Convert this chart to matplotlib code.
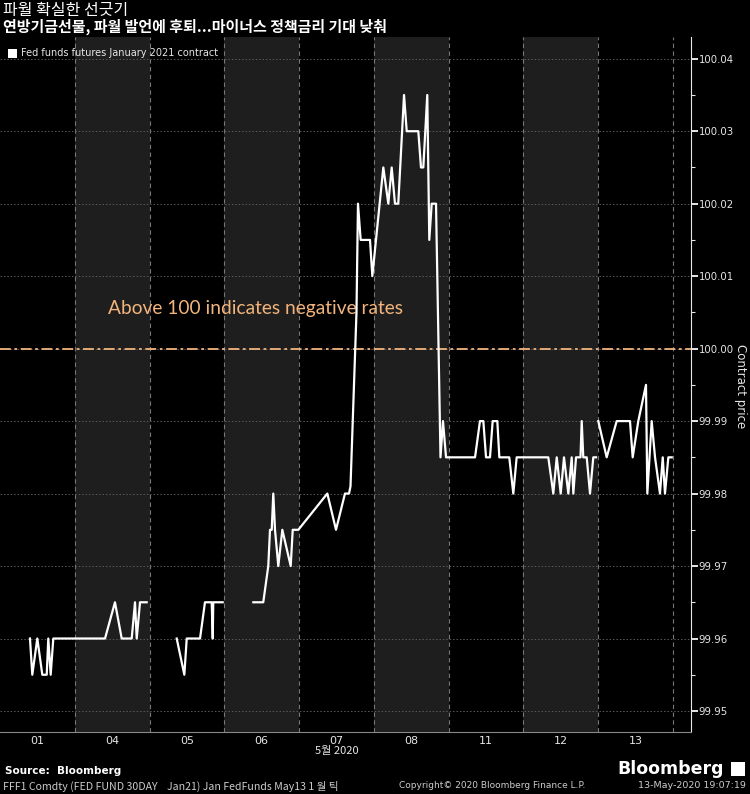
import numpy as np
import matplotlib.pyplot as plt
from matplotlib.patches import Rectangle

# trading days shown on the x axis (one unit per day)
days = ['01', '04', '05', '06', '07', '08', '11', '12', '13']

# intraday time in trading-day units, NaN = gap in the series
t = [0.401, 0.432, 0.499, 0.566, 0.625, 0.646, 0.678, 0.713, 1.405, 1.538,
     1.628, 1.762, 1.806, 1.829, 1.873, 1.962, np.nan,
     2.364, 2.466, 2.498, 2.676, 2.742, 2.832, 2.846, 2.853, 2.979, np.nan,
     3.389, 3.522, 3.589, 3.612, 3.635, 3.656, 3.679, 3.723, 3.777, 3.889,
     3.916, 3.991, 4.379, 4.495, 4.615, 4.669, 4.689, 4.769, 4.789, 4.825,
     4.950, 4.981, 5.128, 5.195, 5.240, 5.284, 5.328, 5.405, 5.441, 5.596,
     5.632, 5.663, 5.716, 5.743, 5.775, 5.833, 5.893, 5.926, 5.967, 6.355,
     6.421, 6.466, 6.502, 6.555, 6.591, 6.653, 6.680, 6.813, 6.867, 6.912,
     7.335, 7.402, 7.448, 7.501, 7.545, 7.603, 7.648, 7.670, 7.706, 7.766,
     7.782, 7.803, 7.849, 7.893, 7.937, 7.973, np.nan,
     8.004, 8.116, 8.250, 8.428, 8.464, 8.539, 8.642, 8.660, 8.718, 8.763,
     8.829, 8.866, 8.896, 8.941, 8.986]

price = [99.96, 99.955, 99.96, 99.955, 99.955, 99.96, 99.955, 99.96, 99.96, 99.965,
         99.96, 99.96, 99.965, 99.96, 99.965, 99.965, np.nan,
         99.96, 99.955, 99.96, 99.96, 99.965, 99.965, 99.96, 99.965, 99.965, np.nan,
         99.965, 99.965, 99.97, 99.975, 99.975, 99.98, 99.975, 99.97, 99.975, 99.97,
         99.975, 99.975, 99.98, 99.975, 99.98, 99.98, 99.981, 100.005, 100.02, 100.015,
         100.015, 100.01, 100.025, 100.02, 100.025, 100.02, 100.02, 100.035, 100.03, 100.03,
         100.025, 100.025, 100.035, 100.015, 100.02, 100.02, 99.985, 99.99, 99.985, 99.985,
         99.99, 99.99, 99.985, 99.985, 99.99, 99.99, 99.985, 99.985, 99.98, 99.985,
         99.985, 99.98, 99.985, 99.98, 99.985, 99.98, 99.985, 99.98, 99.985, 99.985,
         99.99, 99.985, 99.985, 99.98, 99.985, 99.985, np.nan,
         99.99, 99.985, 99.99, 99.99, 99.985, 99.99, 99.995, 99.98, 99.99, 99.985,
         99.98, 99.985, 99.98, 99.985, 99.985]

yticks = [99.95, 99.96, 99.97, 99.98, 99.99, 100.00, 100.01, 100.02, 100.03, 100.04]

kr = ['Noto Sans CJK KR', 'DejaVu Sans']
fg = '#e6e6e6'

fig = plt.figure(figsize=(7.5, 7.94), dpi=100, facecolor='black')
ax = fig.add_axes([0.0, 1 - 732 / 794, 691 / 750, (732 - 37) / 794])
ax.set_facecolor('black')

ax.set_xlim(0, 691 / 74.75)
ax.set_ylim(99.9471, 100.043)

# grey bands on every other day
for i in range(len(days)):
    if i % 2 == 1:
        ax.add_patch(Rectangle((i, 0), 1, 1, transform=ax.get_xaxis_transform(),
                               facecolor='#1e1e1e', edgecolor='none', zorder=0))
for i in range(1, len(days) + 1):
    ax.axvline(i, color='#777777', lw=0.8, ls=(0, (4, 3)), zorder=1)
for y in yticks:
    ax.axhline(y, color='#5a5a5a', lw=0.7, ls=(0, (1.5, 2)), zorder=1)

ax.axhline(100.0, color='#f2b47c', lw=1.3, ls=(0, (6, 2, 1.5, 2)), zorder=2)
ax.text(1.445, 100.0055, 'Above 100 indicates negative rates', color='#f2b47c',
        fontsize=13.8, family='Lato', va='center', ha='left')

ax.plot(t, price, color='white', lw=1.6, zorder=3)

# axes styling
for s in ['left', 'top']:
    ax.spines[s].set_visible(False)
ax.spines['right'].set_color(fg)
ax.spines['bottom'].set_color('#888888')
ax.yaxis.tick_right()
ax.set_yticks(yticks)
ax.set_yticklabels(['%.2f' % v for v in yticks])
ax.set_yticks(np.arange(99.955, 100.04, 0.01), minor=True)
ax.tick_params(axis='y', which='major', colors=fg, length=5, width=1.4, labelsize=7.3, pad=0.5)
ax.tick_params(axis='y', which='minor', colors=fg, length=3, width=0.8)
ax.set_xticks(np.arange(len(days)) + 0.5)
ax.set_xticklabels(days)
ax.tick_params(axis='x', colors=fg, length=0, labelsize=8, pad=3)
ax.set_ylabel('Contract price', rotation=270, color=fg, fontsize=8.5, va='center')
ax.yaxis.set_label_coords(741 / 691, 0.497)

ax.text(4.5, -0.028, '5월 2020', transform=ax.get_xaxis_transform(), ha='center',
        va='center', color=fg, fontsize=8, family=kr)

# legend
fig.patches.append(Rectangle((8 / 750, 1 - 58 / 794), 9 / 750, 9 / 794,
                             transform=fig.transFigure, facecolor='white'))
fig.text(21 / 750, 1 - 53 / 794, 'Fed funds futures January 2021 contract',
         color=fg, fontsize=7, va='center')

# titles
fig.text(3 / 750, 1 - 11 / 794, '파월 확실한 선긋기', color='white', fontsize=11.5,
         family=kr, va='center')
fig.text(3 / 750, 1 - 27 / 794, '연방기금선물, 파월 발언에 후퇴...마이너스 정책금리 기대 낮춰',
         color='white', fontsize=10.8, family=kr, va='center', fontweight='bold')

# footer
fig.text(5 / 750, 1 - 771 / 794, 'Source:  Bloomberg', color='white', fontsize=7.5,
         fontweight='bold', va='center')
fig.text(3 / 750, 1 - 786 / 794, 'FFF1 Comdty (FED FUND 30DAY    Jan21) Jan FedFunds May13 1 월 틱',
         color='#cccccc', fontsize=7.6, family=kr, va='center')
fig.text(492 / 750, 1 - 786 / 794, 'Copyright© 2020 Bloomberg Finance L.P.',
         color='#cccccc', fontsize=6.5, va='center', ha='center')
fig.text(746 / 750, 1 - 786 / 794, '13-May-2020 19:07:19',
         color='#cccccc', fontsize=6.8, va='center', ha='right')
fig.text(724 / 750, 1 - 769 / 794, 'Bloomberg', color='white', fontsize=12.5,
         fontweight='bold', va='center', ha='right')
fig.patches.append(Rectangle((731 / 750, 1 - 776 / 794), 14 / 750, 14 / 794,
                             transform=fig.transFigure, facecolor='white'))

fig.savefig('out.png', dpi=100, facecolor='black')
